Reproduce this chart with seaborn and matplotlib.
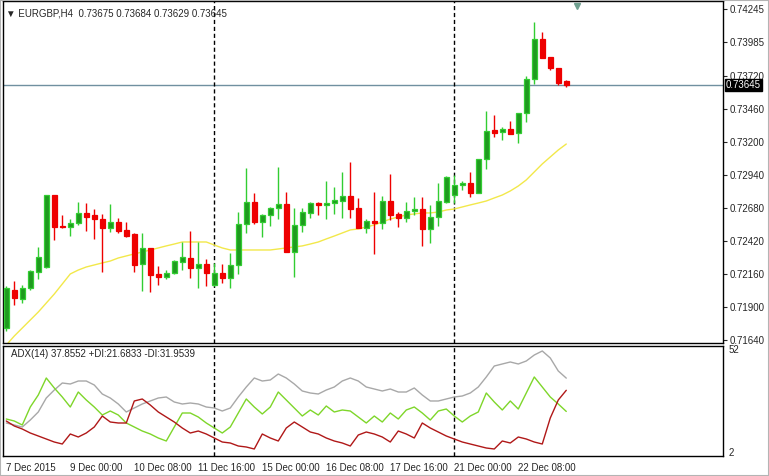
# EURGBP H4 candle chart with MA and ADX pane (MetaTrader look)

import matplotlib
matplotlib.use("Agg")
import matplotlib.pyplot as plt
from matplotlib.transforms import blended_transform_factory
import seaborn as sns
import pandas as pd
import numpy as np

sns.set_style("white")
plt.rcParams['font.family'] = ['Liberation Sans', 'DejaVu Sans']

# --- data ---
opens = [0.71731, 0.72031, 0.71960, 0.72047, 0.72173, 0.72212, 0.72779, 0.72535, 0.72527, 0.72559,
         0.72638, 0.72622, 0.72590, 0.72519, 0.72567, 0.72504, 0.72472, 0.72236, 0.72362, 0.72157,
         0.72133, 0.72165, 0.72251, 0.72283, 0.72204, 0.72236, 0.72070, 0.72165, 0.72125, 0.72228,
         0.72551, 0.72724, 0.72567, 0.72622, 0.72677, 0.72708, 0.72330, 0.72543, 0.72638, 0.72716,
         0.72701, 0.72716, 0.72732, 0.72772, 0.72677, 0.72519, 0.72575, 0.72559, 0.72732, 0.72630,
         0.72598, 0.72653, 0.72669, 0.72512, 0.72606, 0.72724, 0.72779, 0.72858, 0.72874, 0.72795,
         0.73063, 0.73292, 0.73276, 0.73300, 0.73268, 0.73426, 0.73694, 0.74009, 0.73867, 0.73780,
         0.73675]
highs = [0.72062, 0.72102, 0.72070, 0.72188, 0.72370, 0.72779, 0.72779, 0.72622, 0.72590, 0.72724,
         0.72716, 0.72669, 0.72630, 0.72708, 0.72598, 0.72567, 0.72480, 0.72480, 0.72362, 0.72220,
         0.72188, 0.72267, 0.72409, 0.72496, 0.72409, 0.72275, 0.72244, 0.72236, 0.72322, 0.72645,
         0.72992, 0.72795, 0.72630, 0.72685, 0.73000, 0.72803, 0.72677, 0.72677, 0.72724, 0.72724,
         0.72890, 0.72842, 0.72961, 0.73039, 0.72756, 0.72590, 0.72803, 0.72772, 0.72945, 0.72645,
         0.72724, 0.72764, 0.72764, 0.72701, 0.72874, 0.72929, 0.72937, 0.72890, 0.72961, 0.73063,
         0.73441, 0.73410, 0.73315, 0.73363, 0.73426, 0.73717, 0.74143, 0.74064, 0.73867, 0.73780,
         0.73684]
lows = [0.71708, 0.71913, 0.71928, 0.72031, 0.72118, 0.72204, 0.72425, 0.72519, 0.72456, 0.72543,
        0.72496, 0.72433, 0.72173, 0.72488, 0.72480, 0.72448, 0.72173, 0.72023, 0.72015, 0.72070,
        0.72118, 0.72157, 0.72188, 0.72125, 0.72047, 0.72062, 0.72062, 0.72086, 0.72047, 0.72157,
        0.72480, 0.72551, 0.72448, 0.72535, 0.72590, 0.72330, 0.72133, 0.72488, 0.72598, 0.72622,
        0.72590, 0.72630, 0.72598, 0.72598, 0.72519, 0.72480, 0.72315, 0.72512, 0.72582, 0.72527,
        0.72567, 0.72622, 0.72378, 0.72401, 0.72535, 0.72716, 0.72716, 0.72819, 0.72764, 0.72795,
        0.72984, 0.73236, 0.73213, 0.73260, 0.73189, 0.73355, 0.73654, 0.73859, 0.73764, 0.73646,
        0.73629]
closes = [0.72047, 0.71968, 0.72047, 0.72181, 0.72291, 0.72779, 0.72527, 0.72527, 0.72559, 0.72638,
          0.72606, 0.72590, 0.72519, 0.72567, 0.72496, 0.72456, 0.72228, 0.72362, 0.72149, 0.72133,
          0.72165, 0.72259, 0.72291, 0.72204, 0.72236, 0.72165, 0.72165, 0.72125, 0.72228, 0.72551,
          0.72724, 0.72567, 0.72622, 0.72677, 0.72708, 0.72330, 0.72543, 0.72645, 0.72716, 0.72701,
          0.72716, 0.72740, 0.72772, 0.72669, 0.72519, 0.72575, 0.72559, 0.72732, 0.72622, 0.72598,
          0.72653, 0.72669, 0.72512, 0.72606, 0.72732, 0.72921, 0.72858, 0.72874, 0.72795, 0.73063,
          0.73284, 0.73268, 0.73300, 0.73260, 0.73426, 0.73694, 0.74009, 0.73859, 0.73780, 0.73662,
          0.73645]
ma = [0.71597, 0.71668, 0.71731, 0.71794, 0.71857, 0.71928, 0.71999, 0.72078, 0.72157, 0.72188,
      0.72212, 0.72228, 0.72244, 0.72259, 0.72283, 0.72299, 0.72315, 0.72330, 0.72346, 0.72362,
      0.72378, 0.72393, 0.72409, 0.72409, 0.72409, 0.72409, 0.72385, 0.72362, 0.72346, 0.72346,
      0.72346, 0.72346, 0.72346, 0.72346, 0.72354, 0.72362, 0.72370, 0.72378, 0.72393, 0.72409,
      0.72433, 0.72456, 0.72480, 0.72504, 0.72512, 0.72527, 0.72543, 0.72567, 0.72590, 0.72606,
      0.72622, 0.72630, 0.72638, 0.72638, 0.72645, 0.72661, 0.72669, 0.72685, 0.72701, 0.72716,
      0.72732, 0.72756, 0.72779, 0.72811, 0.72850, 0.72898, 0.72961, 0.73024, 0.73079, 0.73134,
      0.73181]

adx = [16.08, 15.11, 14.14, 17.53, 21.42, 28.21, 32.09, 35.49, 35.01, 36.46,
       36.46, 34.52, 30.15, 28.21, 25.30, 21.42, 23.36, 25.30, 26.76, 28.21,
       28.70, 26.27, 25.30, 25.78, 25.30, 23.84, 23.36, 21.90, 23.36, 28.70,
       33.55, 37.92, 36.46, 36.95, 39.86, 37.92, 35.01, 31.61, 30.64, 30.15,
       32.09, 33.55, 36.46, 37.92, 36.46, 33.55, 32.58, 31.61, 32.58, 31.12,
       31.12, 33.07, 29.67, 26.76, 26.76, 27.73, 28.70, 29.18, 30.64, 33.55,
       38.41, 43.74, 44.72, 45.69, 44.72, 46.17, 49.08, 51.03, 47.63, 41.32,
       37.8552]
plus_di = [18.02, 17.05, 15.11, 23.84, 29.67, 37.92, 33.07, 28.70, 23.84, 31.12,
           27.24, 23.84, 19.96, 21.90, 19.96, 16.08, 14.14, 12.19, 10.74, 8.80,
           7.34, 14.14, 20.93, 20.93, 18.99, 16.08, 13.65, 11.22, 14.14, 20.93,
           27.73, 23.84, 20.45, 23.84, 31.12, 27.24, 23.36, 19.47, 22.39, 19.96,
           24.33, 21.42, 22.39, 21.90, 18.99, 16.08, 19.47, 16.56, 20.93, 18.02,
           22.39, 23.84, 20.93, 17.53, 21.90, 22.87, 19.47, 16.56, 19.47, 21.42,
           30.64, 26.27, 22.39, 26.76, 22.87, 30.64, 38.41, 33.55, 28.70, 25.30,
           21.6833]
minus_di = [17.05, 14.62, 13.16, 11.22, 9.77, 8.31, 6.85, 5.88, 10.74, 9.28,
            11.22, 14.14, 19.47, 16.56, 16.08, 16.08, 26.76, 27.73, 24.81, 21.42,
            18.99, 16.56, 13.65, 11.22, 12.19, 10.74, 8.80, 6.85, 6.37, 4.91,
            4.43, 3.46, 10.74, 8.80, 7.34, 13.65, 16.56, 14.14, 11.71, 10.74,
            8.80, 7.34, 6.37, 4.91, 10.25, 11.71, 10.74, 9.28, 6.85, 12.19,
            10.74, 8.80, 16.08, 13.65, 11.71, 9.77, 8.31, 6.85, 5.88, 4.91,
            3.94, 3.46, 7.34, 6.37, 9.28, 8.31, 6.85, 5.88, 18.50, 27.24,
            31.9539]

time_ticks = [0, 8, 16, 24, 32, 40, 48, 56, 64]
time_labels = ["7 Dec 2015", "9 Dec 00:00", "10 Dec 08:00", "11 Dec 16:00", "15 Dec 00:00",
               "16 Dec 08:00", "17 Dec 16:00", "21 Dec 00:00", "22 Dec 08:00"]
week_separators = [26, 56]
price_ticks = [0.74245, 0.73985, 0.73720, 0.73460, 0.73200, 0.72940,
               0.72680, 0.72420, 0.72160, 0.71900, 0.71640]
bid = 0.73645

df = pd.DataFrame({"open": opens, "high": highs, "low": lows, "close": closes, "ma": ma,
                   "adx": adx, "pdi": plus_di, "mdi": minus_di})
df["bar"] = np.arange(len(df))

W, H = 769, 476
fig = plt.figure(figsize=(W / 100, H / 100), dpi=100)
ax = fig.add_axes([3 / W, 1 - 343 / H, 720 / W, 342 / H])
ax2 = fig.add_axes([3 / W, 1 - 456 / H, 720 / W, 110 / H])

# candles
bull = df["close"] >= df["open"]
for up, wick, fill in [(True, "#32cd32", "#1f9a1f"), (False, "#ee0000", "#ee0000")]:
    d = df[bull == up]
    ax.vlines(d["bar"], d["low"], d["high"], color=wick, lw=1, zorder=2)
    body_lo = np.minimum(d["open"], d["close"])
    body_h = np.maximum((d["close"] - d["open"]).abs(), 0.00003)
    ax.bar(d["bar"], body_h, bottom=body_lo, width=0.62, color=fill,
           edgecolor=wick, linewidth=0.9, zorder=3)

sns.lineplot(data=df, x="bar", y="ma", ax=ax, color="#f2e84a", lw=1, estimator=None, zorder=1)
ax.axhline(bid, color="#7090a0", lw=1, zorder=0)

sns.lineplot(data=df, x="bar", y="adx", ax=ax2, color="#a8a8a8", lw=1, estimator=None)
sns.lineplot(data=df, x="bar", y="pdi", ax=ax2, color="#7ed62a", lw=1, estimator=None)
sns.lineplot(data=df, x="bar", y="mdi", ax=ax2, color="#b01818", lw=1, estimator=None)

for a in (ax, ax2):
    for s in week_separators:
        a.axvline(s, color="black", lw=1, ls=(0, (3, 2)), zorder=0)
    a.set_xlim(-0.41, 89.59)
    a.set_xlabel("")
    a.set_ylabel("")
    for sp in a.spines.values():
        sp.set_color("black")
        sp.set_linewidth(1)

ax.set_ylim(0.71613, 0.74308)
ax.set_xticks([])
ax.set_yticks(price_ticks)
ax.set_yticklabels([f"{p:.5f}" for p in price_ticks])
ax.tick_params(axis="y", left=False, right=True, labelleft=False, labelright=True,
               direction="out", length=3, width=0.8, pad=2, labelsize=7)

ax2.set_ylim(0.06, 53.45)
ax2.set_yticks([52, 2])
ax2.set_yticklabels(["52", "2"])
ax2.tick_params(axis="y", left=False, right=True, labelleft=False, labelright=True,
                length=0, pad=4, labelsize=7)
ax2.set_xticks(time_ticks)
ax2.set_xticklabels(time_labels)
ax2.tick_params(axis="x", direction="out", length=4, width=0.8, pad=1, labelsize=7)
for lab in ax2.get_xticklabels():
    lab.set_horizontalalignment("left")

# bid label box
tr = blended_transform_factory(ax.transAxes, ax.transData)
ax.text(1.004, bid, f"{bid:.5f}", transform=tr, ha="left", va="center", fontsize=7,
        color="white", zorder=5,
        bbox=dict(facecolor="black", edgecolor="black", pad=0.7))

# header texts
ax.text(3 / 720, 1 - 12 / 342,
        "\u25bc EURGBP,H4  0.73675 0.73684 0.73629 0.73645",
        transform=ax.transAxes, ha="left", va="center", fontsize=7)
ax2.text(8 / 720, 1 - 8 / 110, "ADX(14) 37.8552 +DI:21.6833 -DI:31.9539",
         transform=ax2.transAxes, ha="left", va="center", fontsize=7)

# chart shift marker
ax.plot([(577 - 3) / 720], [1 - 5 / 342], marker="v", ms=5, color="#6f9f8f",
        transform=ax.transAxes, clip_on=False)

fig.patches.append(plt.Rectangle((0, 0), 1, 1, transform=fig.transFigure, fill=False,
                                 edgecolor="#b4b4b4", lw=1.5))

fig.savefig("out.png", dpi=100)
